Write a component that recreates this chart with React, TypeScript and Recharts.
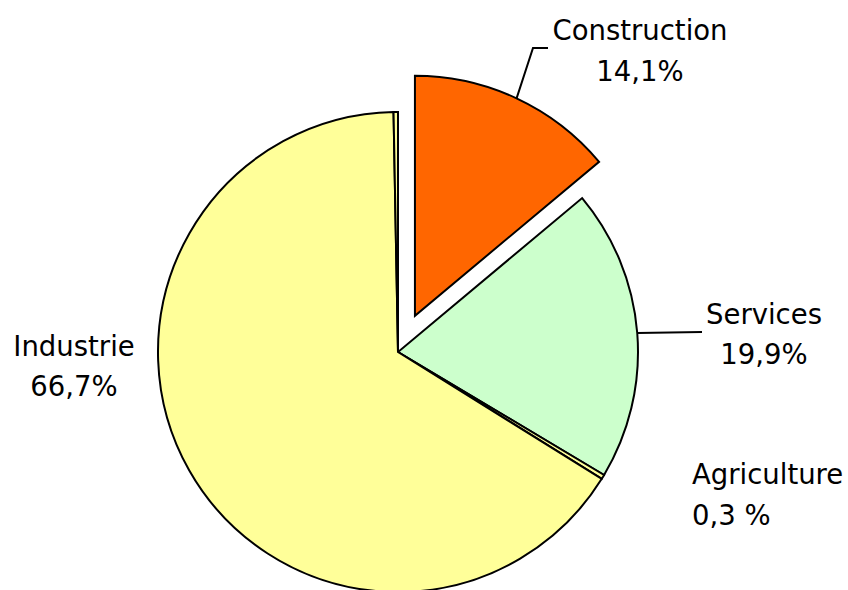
import React from 'react';
import { PieChart, Pie, Cell } from 'recharts';

const categories = ['Construction', 'Services', 'Agriculture', 'Industrie', 'Autres'];
const shares = [14.1, 19.9, 0.3, 66.7, 0.3];
const shareLabels = ['14,1%', '19,9%', '0,3 %', '66,7%', ''];
const colors = ['#FF6600', '#CCFFCC', '#FFFF99', '#FFFF99', '#FFFF99'];

const data = categories.map((name, i) => ({ name, value: shares[i] }));

const EXPLODED = 0;
const EXPLODE_DIST = 40;
const CX = 398;
const CY = 352;
const R = 240;
const RAD = Math.PI / 180;
const FONT = 'DejaVu Sans, Verdana, sans-serif';
const FS = 27.5;

type LabelPos = {
  x: number;
  y1: number;
  y2: number;
  anchor: 'start' | 'middle' | 'end';
  leader?: [number, number][];
};

const labelLayout: (LabelPos | null)[] = [
  { x: 640, y1: 40, y2: 81, anchor: 'middle', leader: [[533, 48], [548, 48]] },
  { x: 764, y1: 324, y2: 364, anchor: 'middle', leader: [[702, 332]] },
  { x: 692, y1: 484, y2: 525, anchor: 'start' },
  { x: 74, y1: 356, y2: 396, anchor: 'middle' },
  null,
];

// explode offset derived from the data (mid angle of the exploded slice)
const total = shares.reduce((a, b) => a + b, 0);
const before = shares.slice(0, EXPLODED).reduce((a, b) => a + b, 0);
const midAngleExploded = 90 - ((before + shares[EXPLODED] / 2) / total) * 360;
const offX = EXPLODE_DIST * Math.cos(midAngleExploded * RAD);
const offY = -EXPLODE_DIST * Math.sin(midAngleExploded * RAD);

const renderLabel = (props: any) => {
  const { cx, cy, midAngle, outerRadius, index } = props;
  const L = labelLayout[index];
  if (!L) return null;
  const off = index === EXPLODED ? EXPLODE_DIST : 0;
  const c = Math.cos(midAngle * RAD);
  const s = Math.sin(midAngle * RAD);
  const sx = cx + off * c + outerRadius * c;
  const sy = cy - off * s - outerRadius * s;
  const pts = L.leader ? [[sx, sy], ...L.leader] : null;
  return (
    <g key={`lbl-${index}`}>
      {pts && (
        <polyline
          points={pts.map((p) => p.join(',')).join(' ')}
          fill="none"
          stroke="#000"
          strokeWidth={2}
        />
      )}
      <text x={L.x} y={L.y1} textAnchor={L.anchor} fontFamily={FONT} fontSize={FS} fill="#000">
        {categories[index]}
      </text>
      <text x={L.x} y={L.y2} textAnchor={L.anchor} fontFamily={FONT} fontSize={FS} fill="#000">
        {shareLabels[index]}
      </text>
    </g>
  );
};

export default function App() {
  return (
    <div style={{ position: 'absolute', left: 0, top: 0, width: 848, height: 590, background: '#fff' }}>
      <PieChart width={848} height={590} margin={{ top: 0, right: 0, bottom: 0, left: 0 }}>
        <Pie
          data={data}
          dataKey="value"
          nameKey="name"
          cx={CX}
          cy={CY}
          outerRadius={R}
          startAngle={90}
          endAngle={-270}
          isAnimationActive={false}
          label={renderLabel}
          labelLine={false}
        >
          {data.map((d, i) => (
            <Cell
              key={d.name}
              fill={i === EXPLODED ? 'none' : colors[i]}
              stroke={i === EXPLODED ? 'none' : '#000'}
              strokeWidth={2}
            />
          ))}
        </Pie>
        <Pie
          data={data}
          dataKey="value"
          nameKey="name"
          cx={CX + offX}
          cy={CY + offY}
          outerRadius={R}
          startAngle={90}
          endAngle={-270}
          isAnimationActive={false}
          label={false}
          labelLine={false}
        >
          {data.map((d, i) => (
            <Cell
              key={d.name}
              fill={i === EXPLODED ? colors[i] : 'none'}
              stroke={i === EXPLODED ? '#000' : 'none'}
              strokeWidth={2}
            />
          ))}
        </Pie>
      </PieChart>
    </div>
  );
}
